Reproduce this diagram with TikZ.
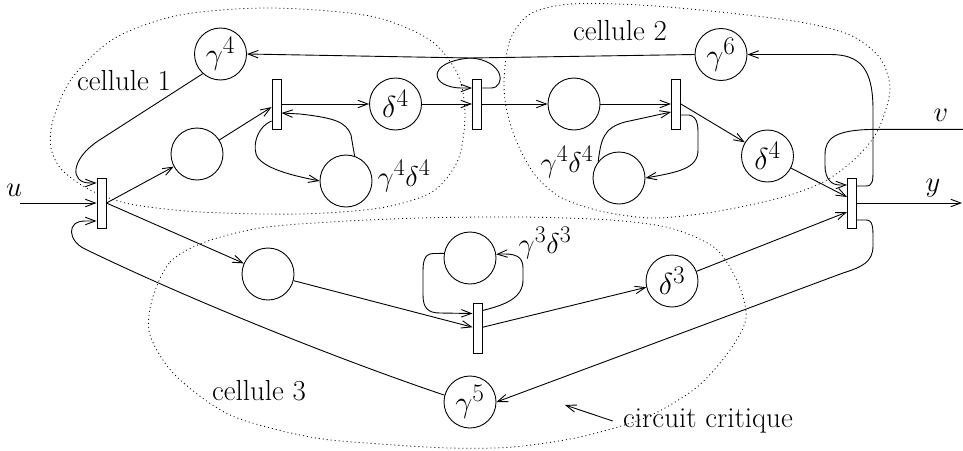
\documentclass[tikz,border=0pt]{standalone}
\usepackage{fontspec}
\usetikzlibrary{arrows.meta,calc}
\newcommand{\plm}[1]{\scalebox{1.22}{$#1$}}
\newcommand{\olm}[1]{\scalebox{1.15}{$#1$}}
\begin{document}
\begin{tikzpicture}[x=1pt,y=-1pt,line width=0.9pt,
  font=\fontsize{29}{33}\selectfont,
  trans/.style={draw,fill=white,minimum width=9,minimum height=50,inner sep=0},
  place/.style={draw,circle,minimum size=52,inner sep=0},
  lbl/.style={inner sep=0},
  arr/.style={-{Straight Barb[length=10pt,width=7.5pt]}},
  cell/.style={line width=0.8pt,dash pattern=on 1pt off 3pt}]
\useasboundingbox (0,0) rectangle (963,450);

% cells
\draw[cell] plot[smooth cycle] coordinates {(53,120) (72,78) (115,38) (180,15) (270,8) (370,16) (430,40) (458,75) (465,115) (458,160) (432,192) (380,208) (300,214) (200,212) (130,204) (90,190) (62,170) (51,148)};
\draw[cell] plot[smooth cycle] coordinates {(504,80) (510,40) (530,14) (570,4) (640,5) (720,12) (800,22) (850,35) (880,58) (890,90) (878,130) (857,157) (827,180) (793,194) (750,205) (700,214) (650,218) (600,211) (560,197) (535,175) (518,145) (507,112)};
\draw[cell] plot[smooth cycle] coordinates {(152,300) (170,262) (205,242) (260,228) (330,222) (420,218) (520,217) (610,220) (670,228) (715,248) (738,283) (746,318) (730,350) (697,387) (647,417) (580,437) (513,447) (450,448) (380,444) (310,437) (230,415) (175,375) (150,335)};

% transitions
\node[trans] (t1) at (101.5,203) {};
\node[trans] (t2) at (276.5,104) {};
\node[trans] (t3) at (477,104) {};
\node[trans] (t4) at (676,104) {};
\node[trans] (t5) at (852,203) {};
\node[trans] (t6) at (477.5,328.5) {};

% places
\node[place] (pg4) at (220.5,54) {\plm{\gamma^4}};
\node[place] (pc1) at (197,154) {};
\node[place] (pd4a) at (395.5,104) {\plm{\delta^4}};
\node[place] (pl1) at (346,181) {};
\node[place] (pc2) at (574,104) {};
\node[place] (pg6) at (721,54.5) {\plm{\gamma^6}};
\node[place] (pl2) at (619,178) {};
\node[place] (pd4b) at (767.5,156) {\plm{\delta^4}};
\node[place] (pc3) at (268,274) {};
\node[place] (pl3) at (470,258) {};
\node[place] (pd3) at (672,281) {\plm{\delta^3}};
\node[place] (pg5) at (470,402) {\plm{\gamma^5}};

% labels
\node[lbl] (lu) at (14,190) {\olm{u}};
\node[lbl] (lv) at (941,115) {\olm{v}};
\node[lbl] (ly) at (933,188) {\olm{y}};
\node[lbl] (c1) at (124,81) {cellule 1};
\node[lbl] (c2) at (620,31) {cellule 2};
\node[lbl] (c3) at (259,391) {cellule 3};
\node[lbl] (cc) at (708,421) {circuit critique};
\node[lbl] (l1) at (404,176) {\olm{\gamma^4\delta^4}};
\node[lbl] (l2) at (567,162) {\olm{\gamma^4\delta^4}};
\node[lbl] (l3) at (545,243) {\olm{\gamma^3\delta^3}};

\coordinate (ustart) at (20,203);
\coordinate (yend) at (962,203);
\coordinate (vstart) at (963,129.4);
\coordinate (ccend) at (565,405);

% straight arcs
\draw[arr] (ustart) -- (t1);
\draw[arr] (t1.east) -- (pc1);
\draw[arr] (pc1) -- (t2);
\draw[arr] (t2) -- (pd4a);
\draw[arr] (pd4a) -- (t3);
\draw[arr] (t3) -- (pc2);
\draw[arr] (pc2) -- (t4);
\draw[arr] (t4.east) -- (pd4b);
\draw[arr] (pd4b) -- ([yshift=6pt]t5.west);
\draw[arr] (t5) -- (yend);
\draw[arr] (t1.east) -- (pc3);
\draw[arr] (pc3) -- (t6);
\draw[arr] (t6) -- (pd3);
\draw[arr] (pd3) -- ([yshift=-9pt]t5.west);

% long curved arcs
\draw[arr] ([yshift=17pt]t5.east) -- (866,186) .. controls (873,186) and (873,180) .. (873,170) -- (873,110) .. controls (873,68) and (860,54.5) .. (830,54.5) -- (pg6.east);
\draw[arr] (pg6.west) -- (470,58) .. controls (425,62) and (430,88) .. (462,88) -- ([yshift=16pt]t3.west);
\draw[arr] ([yshift=16pt]t3.east) -- (491,88) .. controls (506,88) and (505,60) .. (470,58) -- (pg4.east);
\draw[arr] (pg4.228) -- (98,141) .. controls (70,160) and (70,183) .. (90,183) -- ([yshift=20pt]t1.west);
\draw[arr] (pg5.165) .. controls (340,360) and (190,300) .. (85,249) .. controls (68,241) and (66,221) .. (85,221) -- ([yshift=-18pt]t1.west);
\draw[arr] ([yshift=-17pt]t5.east) -- (866,220) .. controls (873,220) and (873,228) .. (873,238) -- (873,246) .. controls (873,262) and (862,267) .. (843,273) -- (pg5.east);
\draw[arr] (vstart) -- (873,129.4) .. controls (835,130) and (825,138) .. (825,155) -- (825,165) .. controls (825,180) and (832,185) .. (840,185) -- ([yshift=18pt]t5.west);

% self loops
\draw[arr] ([yshift=-17pt]t2.west) .. controls (255,128) and (252,150) .. (258,158) .. controls (268,170) and (295,176) .. (pl1.west);
\draw[arr] (pl1.71) -- (351,135) .. controls (346,122) and (335,118) .. (300,114) -- ([yshift=-9pt]t2.east);
\draw[arr] (pl2.142) .. controls (601,140) and (603,128) .. (625,122) -- ([yshift=-8pt]t4.west);
\draw[arr] ([yshift=-11pt]t4.east) -- (689,115) .. controls (699,117) and (698,128) .. (698,140) -- (698,150) .. controls (698,168) and (680,172) .. (pl2.east);
\draw[arr] ([yshift=18pt]t6.east) .. controls (505,305) and (523,298) .. (523,280) -- (523,268) .. controls (523,256) and (515,253) .. (pl3.8);
\draw[arr] (pl3.170) -- (433,253.5) .. controls (424,254) and (423,262) .. (423,272) -- (423,295) .. controls (423,308) and (428,313) .. (440,313) -- ([yshift=15pt]t6.west);

% circuit critique pointer
\draw[arr] ([xshift=-10pt]cc.west) -- (ccend);
\end{tikzpicture}
\end{document}
